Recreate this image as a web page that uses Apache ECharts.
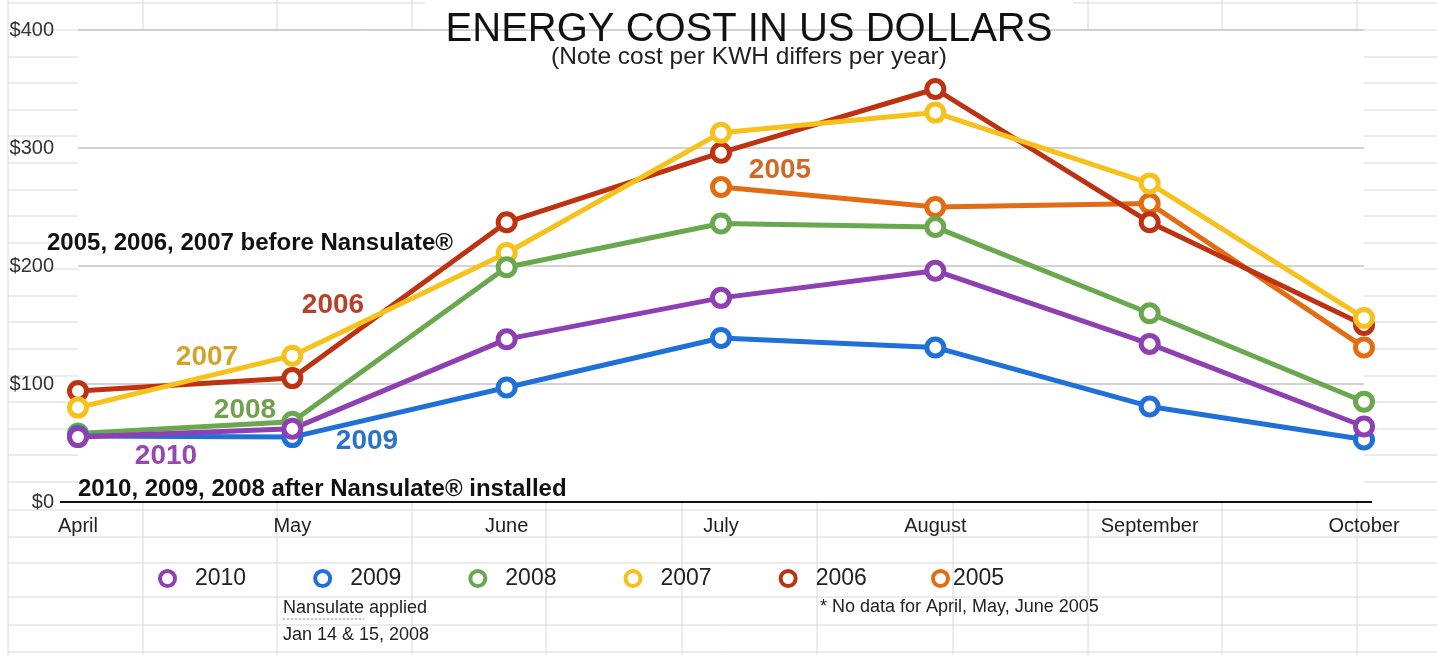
<!DOCTYPE html>
<html>
<head>
<meta charset="utf-8">
<script src="https://cdn.jsdelivr.net/npm/echarts@6/dist/echarts.min.js"></script>
<style>
  html, body { margin: 0; padding: 0; background: #fff; }
  #chart { width: 1437px; height: 655px; }
</style>
</head>
<body>
<div id="chart"></div>
<script>
// ---- data ----
const months = ['April', 'May', 'June', 'July', 'August', 'September', 'October'];
const years = ['2010', '2009', '2008', '2007', '2006', '2005'];
const cost2010 = [55, 62, 138, 173, 196, 134, 64];
const cost2009 = [56, 55, 97, 139, 131, 81, 53];
const cost2008 = [58, 68, 199, 236, 233, 160, 85];
const cost2007 = [80, 124, 211, 313, 330, 270, 156];
const cost2006 = [94, 105, 237, 296, 350, 237, 150];
const cost2005 = [null, null, null, 267, 250, 253, 131];
const yTickValues = [0, 100, 200, 300, 400];

const colors = {
  '2010': '#8d3fb3',
  '2009': '#1f70d8',
  '2008': '#6aa84f',
  '2007': '#f7c11b',
  '2006': '#be3212',
  '2005': '#e36c12'
};
const seriesData = {
  '2010': cost2010, '2009': cost2009, '2008': cost2008,
  '2007': cost2007, '2006': cost2006, '2005': cost2005
};

// ---- spreadsheet background decoration ----
const sheetCols = [8, 143, 277, 412, 546, 682, 817, 953, 1088, 1222, 1357];
const sheetRows = [3, 30, 57, 83, 110, 136, 163, 190, 216, 243, 269, 296, 322, 349, 376, 402, 429, 455, 482, 510, 537, 563, 597, 625, 652];
const sheetColor = '#d8d8d8';
const deco = [];
sheetCols.forEach(x => deco.push({
  type: 'line', z: -10, silent: true,
  shape: { x1: x, y1: 0, x2: x, y2: 655 },
  style: { stroke: sheetColor, lineWidth: 1 }
}));
sheetRows.forEach(y => deco.push({
  type: 'line', z: -10, silent: true,
  shape: { x1: 8, y1: y, x2: 1437, y2: y },
  style: { stroke: sheetColor, lineWidth: 1 }
}));
// white box behind the title
deco.push({ type: 'rect', z: -5, silent: true, shape: { x: 425, y: 0, width: 648, height: 30 }, style: { fill: '#fff' } });
// axis line extensions
deco.push({ type: 'line', z: 5, silent: true, shape: { x1: 60, y1: 502, x2: 1372, y2: 502 }, style: { stroke: '#111', lineWidth: 2 } });

const baseFont = 'Liberation Sans, Arial, sans-serif';
function note(text, x, y, size, color, weight, align) {
  return {
    type: 'text', z: 20, silent: true, x: x, y: y,
    style: {
      text: text, fill: color, font: (weight || 'normal') + ' ' + size + 'px ' + baseFont,
      textAlign: align || 'left', textVerticalAlign: 'middle'
    }
  };
}
deco.push(note('2007', 207, 357, 28, '#d2a42a', 'bold', 'center'));
deco.push(note('2006', 333, 305, 28, '#b9412a', 'bold', 'center'));
deco.push(note('2008', 245, 410, 28, '#71a04f', 'bold', 'center'));
deco.push(note('2010', 166, 456, 28, '#9747b4', 'bold', 'center'));
deco.push(note('2009', 367, 441, 28, '#2a72cc', 'bold', 'center'));
deco.push(note('2005', 780, 170, 28, '#cf6a26', 'bold', 'center'));
deco.push(note('2005, 2006, 2007 before Nansulate®', 47, 243, 24, '#111', 'bold'));
deco.push(note('2010, 2009, 2008 after Nansulate® installed', 78, 489, 24, '#111', 'bold'));
deco.push(note('Nansulate applied', 283, 608, 18, '#222'));
deco.push(note('Jan 14 & 15, 2008', 283, 635, 18, '#222'));
deco.push(note('* No data for April, May, June 2005', 820, 607, 18, '#222'));
deco.push({ type: 'line', z: 20, silent: true, shape: { x1: 283, y1: 619, x2: 364, y2: 619 }, style: { stroke: '#e05050', lineWidth: 1, lineDash: [2, 2] } });

// ---- series (2005 drawn first so 2010 ends on top) ----
const drawOrder = ['2005', '2006', '2007', '2008', '2009', '2010'];
const series = drawOrder.map(y => ({
  name: y,
  type: 'line',
  data: seriesData[y],
  color: colors[y],
  symbol: 'circle',
  symbolSize: 17,
  lineStyle: { width: 5, color: colors[y] },
  itemStyle: { color: '#fff', borderColor: colors[y], borderWidth: 5 },
  connectNulls: false,
  emphasis: { disabled: true }
}));

function legendItem(y) {
  return { name: y, icon: 'circle', itemStyle: { color: '#fff', borderColor: colors[y], borderWidth: 4 } };
}

const legendCommon = {
  itemWidth: 15,
  itemHeight: 15,
  top: 562,
  textStyle: { fontSize: 23, color: '#222', fontFamily: baseFont }
};

const chart = echarts.init(document.getElementById('chart'));
chart.setOption({
  animation: false,
  backgroundColor: 'transparent',
  title: {
    text: 'ENERGY COST IN US DOLLARS',
    subtext: '(Note cost per KWH differs per year)',
    left: 744,
    top: 5,
    textAlign: 'center',
    itemGap: -5,
    textStyle: { fontSize: 40, fontWeight: 'normal', color: '#111', fontFamily: baseFont },
    subtextStyle: { fontSize: 24.5, color: '#222', fontFamily: baseFont }
  },
  legend: [
    Object.assign({}, legendCommon, {
      data: years.slice(0, 5).map(legendItem),
      left: 153,
      itemGap: 67,
      textStyle: Object.assign({}, legendCommon.textStyle, { padding: [0, 0, 0, 15] })
    }),
    Object.assign({}, legendCommon, {
      data: years.slice(5).map(legendItem),
      left: 926
    })
  ],
  grid: {
    left: 78, right: 73, top: 30, bottom: 153,
    show: true, backgroundColor: '#fff', borderWidth: 0
  },
  xAxis: {
    type: 'category',
    data: months,
    boundaryGap: false,
    axisLine: { show: true, lineStyle: { color: '#111', width: 2 } },
    axisTick: { show: false },
    axisLabel: { fontSize: 20, color: '#222', margin: 14, fontFamily: baseFont },
    splitLine: { show: false }
  },
  yAxis: {
    type: 'value',
    min: yTickValues[0],
    max: yTickValues[yTickValues.length - 1],
    interval: 100,
    axisLine: { show: false },
    axisTick: { show: false },
    axisLabel: { fontSize: 20, color: '#333', margin: 24, fontFamily: baseFont, formatter: v => '$' + v },
    splitLine: { lineStyle: { color: '#c4c4c4', width: 1.5 } }
  },
  graphic: deco,
  series: series
});
</script>
</body>
</html>
